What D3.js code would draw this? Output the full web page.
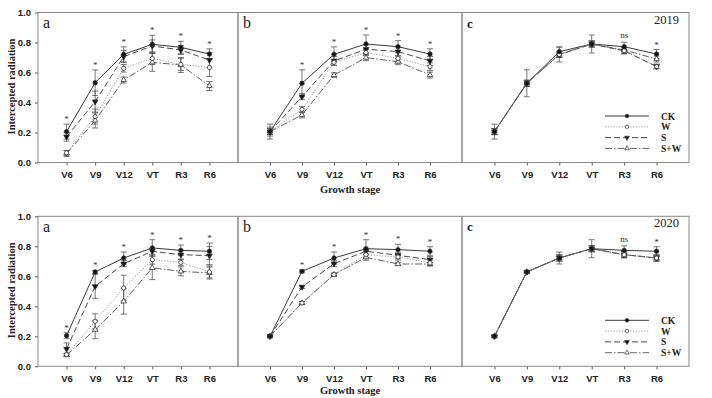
<!DOCTYPE html>
<html>
<head>
<meta charset="utf-8">
<script src="https://cdn.jsdelivr.net/npm/d3@7"></script>
<style>
  body { margin: 0; background: #fff; }
  svg { display: block; font-family: "Liberation Serif", "Times New Roman", serif; }
  .frame { fill: none; stroke: #8a8a8a; stroke-width: 1; }
  .tick-lab { font-size: 9.5px; font-weight: bold; fill: #222; }
  .ax-title { font-size: 10.5px; font-weight: bold; fill: #222; }
</style>
</head>
<body>
<div id="chart"></div>
<script>
// --- categories / series ---
const stages = ["V6", "V9", "V12", "VT", "R3", "R6"];
const seriesNames = ["CK", "W", "S", "S+W"];
const yTicks = [0.0, 0.2, 0.4, 0.6, 0.8, 1.0];
const years = ["2019", "2020"];
const panelLetters = ["a", "b", "c"];

// --- 2019 values (rows: CK, W, S, S+W) ---
const a2019 = [
  [0.206, 0.532, 0.721, 0.788, 0.768, 0.723],
  [0.065, 0.306, 0.628, 0.694, 0.654, 0.633],
  [0.172, 0.406, 0.706, 0.777, 0.750, 0.683],
  [0.060, 0.280, 0.550, 0.668, 0.650, 0.510]
];
const a2019Err = [
  [0.05, 0.085, 0.05, 0.06, 0.04, 0.035],
  [0.015, 0.05, 0.025, 0.04, 0.04, 0.06],
  [0.03, 0.07, 0.04, 0.04, 0.03, 0.05],
  [0.02, 0.05, 0.02, 0.06, 0.05, 0.03]
];
const b2019 = [
  [0.206, 0.528, 0.721, 0.790, 0.772, 0.723],
  [0.206, 0.354, 0.668, 0.733, 0.694, 0.639],
  [0.206, 0.439, 0.677, 0.755, 0.739, 0.677],
  [0.206, 0.317, 0.583, 0.699, 0.672, 0.583]
];
const b2019Err = [
  [0.05, 0.09, 0.05, 0.06, 0.04, 0.035],
  [0.02, 0.02, 0.02, 0.02, 0.02, 0.025],
  [0.03, 0.02, 0.03, 0.03, 0.03, 0.03],
  [0.02, 0.02, 0.015, 0.02, 0.02, 0.02]
];
const c2019 = [
  [0.206, 0.528, 0.739, 0.790, 0.772, 0.723],
  [0.206, 0.528, 0.720, 0.790, 0.745, 0.640],
  [0.206, 0.528, 0.720, 0.790, 0.745, 0.640],
  [0.206, 0.528, 0.720, 0.790, 0.750, 0.690]
];
const c2019Err = [
  [0.05, 0.09, 0.03, 0.06, 0.03, 0.03],
  [0.02, 0.02, 0.05, 0.02, 0.02, 0.015],
  [0.02, 0.02, 0.02, 0.02, 0.02, 0.015],
  [0.02, 0.02, 0.02, 0.02, 0.02, 0.02]
];

// --- 2020 values (rows: CK, W, S, S+W) ---
const a2020 = [
  [0.204, 0.629, 0.722, 0.789, 0.773, 0.767],
  [0.078, 0.300, 0.522, 0.711, 0.693, 0.629],
  [0.116, 0.533, 0.684, 0.767, 0.744, 0.738],
  [0.075, 0.244, 0.433, 0.656, 0.633, 0.622]
];
const a2020Err = [
  [0.02, 0.01, 0.04, 0.055, 0.035, 0.055],
  [0.01, 0.05, 0.085, 0.03, 0.02, 0.04],
  [0.04, 0.08, 0.02, 0.02, 0.03, 0.06],
  [0.01, 0.06, 0.085, 0.078, 0.03, 0.04]
];
const b2020 = [
  [0.200, 0.633, 0.722, 0.784, 0.778, 0.767],
  [0.200, 0.422, 0.611, 0.744, 0.729, 0.689],
  [0.200, 0.529, 0.684, 0.767, 0.740, 0.711],
  [0.200, 0.422, 0.611, 0.727, 0.682, 0.682]
];
const b2020Err = [
  [0.005, 0.01, 0.04, 0.06, 0.035, 0.03],
  [0.005, 0.01, 0.01, 0.02, 0.02, 0.02],
  [0.005, 0.01, 0.02, 0.02, 0.02, 0.02],
  [0.005, 0.01, 0.01, 0.02, 0.01, 0.01]
];
const c2020 = [
  [0.200, 0.629, 0.722, 0.784, 0.773, 0.767],
  [0.200, 0.629, 0.722, 0.784, 0.744, 0.722],
  [0.200, 0.629, 0.722, 0.784, 0.744, 0.722],
  [0.200, 0.629, 0.722, 0.784, 0.744, 0.722]
];
const c2020Err = [
  [0.005, 0.005, 0.04, 0.06, 0.03, 0.03],
  [0.005, 0.005, 0.02, 0.02, 0.02, 0.02],
  [0.005, 0.005, 0.02, 0.02, 0.02, 0.02],
  [0.005, 0.005, 0.02, 0.02, 0.02, 0.02]
];

// --- significance labels ---
const sigA2019 = ["*", "*", "*", "*", "*", "*"];
const sigB2019 = ["", "*", "*", "*", "*", "*"];
const sigC2019 = ["", "", "", "", "ns", "*"];
const sigA2020 = ["*", "*", "*", "*", "*", "*"];
const sigB2020 = ["", "*", "*", "*", "*", "*"];
const sigC2020 = ["", "", "", "", "ns", "*"];

const panelData = [
  [[a2019, a2019Err, sigA2019], [b2019, b2019Err, sigB2019], [c2019, c2019Err, sigC2019]],
  [[a2020, a2020Err, sigA2020], [b2020, b2020Err, sigB2020], [c2020, c2020Err, sigC2020]]
];

// --- layout ---
const W = 712, H = 398;
const panelX = [[38, 238], [238, 462], [462, 689]];
const rowTop = [12.5, 216.3];
const titleOffset = [30, 27.5];
const plotH = 150;

// series styling
const style = {
  "CK":  { stroke: "#3a3a3a", dash: null,        sym: d3.symbolCircle,   fill: "#111", size: 15 },
  "W":   { stroke: "#9a9a9a", dash: "1.2,1.6",   sym: d3.symbolCircle,   fill: "#fff", size: 14 },
  "S":   { stroke: "#4a4a4a", dash: "6,3",       sym: d3.symbolTriangle, fill: "#111", size: 14, rot: 180 },
  "S+W": { stroke: "#666",    dash: "7,2,1.5,2", sym: d3.symbolTriangle, fill: "#fff", size: 13, rot: 0 }
};

const svg = d3.select("#chart").append("svg")
  .attr("width", W)
  .attr("height", H);

svg.append("rect").attr("width", W).attr("height", H).attr("fill", "#fff");

const y = d3.scaleLinear().domain([0, 1]).range([plotH, 0]);

rowTop.forEach((top, r) => {
  const row = svg.append("g").attr("transform", `translate(0, ${top})`);

  // y-axis title
  row.append("text")
    .attr("class", "ax-title")
    .attr("transform", `translate(15, ${plotH / 2 - 1}) rotate(-90)`)
    .attr("text-anchor", "middle")
    .text("Intercepted radiation");

  // y ticks on the left panel
  const yAxis = d3.axisLeft(y).tickValues(yTicks).tickSize(3).tickFormat(d3.format(".1f"));
  const ya = row.append("g")
    .attr("transform", `translate(${panelX[0][0]}, 0)`)
    .call(yAxis);
  ya.select(".domain").remove();
  ya.selectAll("line").attr("stroke", "#555");
  ya.selectAll("text").attr("class", "tick-lab").attr("dx", "-1");

  panelX.forEach((px, p) => {
    const [vals, errs, sig] = panelData[r][p];
    const g = row.append("g").attr("transform", `translate(${px[0]}, 0)`);
    const w = px[1] - px[0];

    const x = d3.scalePoint().domain(stages).range([0, w]).padding(1);

    // x axis
    const xa = g.append("g")
      .attr("transform", `translate(0, ${plotH})`)
      .call(d3.axisBottom(x).tickSize(3).tickPadding(6));
    xa.select(".domain").remove();
    xa.selectAll("line").attr("stroke", "#555");
    xa.selectAll("text").attr("class", "tick-lab");

    // frame
    g.append("rect").attr("class", "frame")
      .attr("x", 0).attr("y", 0).attr("width", w).attr("height", plotH);

    // lines
    const line = d3.line().x((d, i) => x(stages[i])).y(d => y(d));
    seriesNames.forEach((s, k) => {
      g.append("path")
        .datum(vals[k])
        .attr("fill", "none")
        .attr("stroke", style[s].stroke)
        .attr("stroke-width", 1)
        .attr("stroke-dasharray", style[s].dash)
        .attr("d", line);
    });

    // error bars
    seriesNames.forEach((s, k) => {
      const eb = g.append("g").attr("stroke", "#555").attr("stroke-width", 0.8);
      vals[k].forEach((v, i) => {
        const cx = x(stages[i]);
        const lo = y(v - errs[k][i]), hi = y(v + errs[k][i]);
        eb.append("line").attr("x1", cx).attr("x2", cx).attr("y1", lo).attr("y2", hi);
        eb.append("line").attr("x1", cx - 3).attr("x2", cx + 3).attr("y1", lo).attr("y2", lo);
        eb.append("line").attr("x1", cx - 3).attr("x2", cx + 3).attr("y1", hi).attr("y2", hi);
      });
    });

    // markers
    seriesNames.slice().reverse().forEach(s => {
      const k = seriesNames.indexOf(s);
      const st = style[s];
      g.selectAll(null)
        .data(vals[k])
        .enter().append("path")
        .attr("d", d3.symbol().type(st.sym).size(st.size))
        .attr("transform", (d, i) => `translate(${x(stages[i])}, ${y(d)})` + (st.rot ? ` rotate(${st.rot})` : ""))
        .attr("fill", st.fill)
        .attr("stroke", "#333")
        .attr("stroke-width", 0.8);
    });

    // significance labels
    stages.forEach((st, i) => {
      if (!sig[i]) return;
      const top = d3.max(vals, (row, k) => row[i] + errs[k][i]);
      g.append("text")
        .attr("x", x(st))
        .attr("y", y(top) - (sig[i] === "*" ? 2 : 4))
        .attr("text-anchor", "middle")
        .style("font-size", "9px")
        .attr("fill", "#333")
        .text(sig[i]);
    });

    // panel letter
    g.append("text")
      .attr("x", 5)
      .attr("y", p === 2 ? 15 : 15.5)
      .style("font-size", p === 2 ? "13px" : "16px")
      .style("font-weight", p === 2 ? "bold" : "normal")
      .attr("fill", "#222")
      .text(panelLetters[p]);

    if (p === 2) {
      g.append("text")
        .attr("x", w - 10)
        .attr("y", 11)
        .attr("text-anchor", "end")
        .style("font-size", "12.5px")
        .attr("fill", "#222")
        .text(years[r]);

      // legend
      const leg = g.append("g").attr("transform", `translate(${w - 84}, ${r === 0 ? 103.5 : 104})`);
      seriesNames.forEach((s, k) => {
        const st = style[s];
        const ly = k * 10.8;
        leg.append("line")
          .attr("x1", 0).attr("x2", 44).attr("y1", ly).attr("y2", ly)
          .attr("stroke", st.stroke).attr("stroke-width", 1)
          .attr("stroke-dasharray", st.dash);
        leg.append("path")
          .attr("d", d3.symbol().type(st.sym).size(st.size * 0.7))
          .attr("transform", `translate(22, ${ly})` + (st.rot ? ` rotate(${st.rot})` : ""))
          .attr("fill", st.fill).attr("stroke", "#333").attr("stroke-width", 0.7);
        leg.append("text")
          .attr("x", 56).attr("y", ly + 3.5)
          .style("font-size", "9.5px").style("font-weight", "bold")
          .attr("fill", "#222")
          .text(s);
      });
    }
  });

  // x-axis title under the middle panel
  row.append("text")
    .attr("class", "ax-title")
    .attr("x", (panelX[1][0] + panelX[1][1]) / 2)
    .attr("y", plotH + titleOffset[r])
    .attr("text-anchor", "middle")
    .text("Growth stage");
});
</script>
</body>
</html>
